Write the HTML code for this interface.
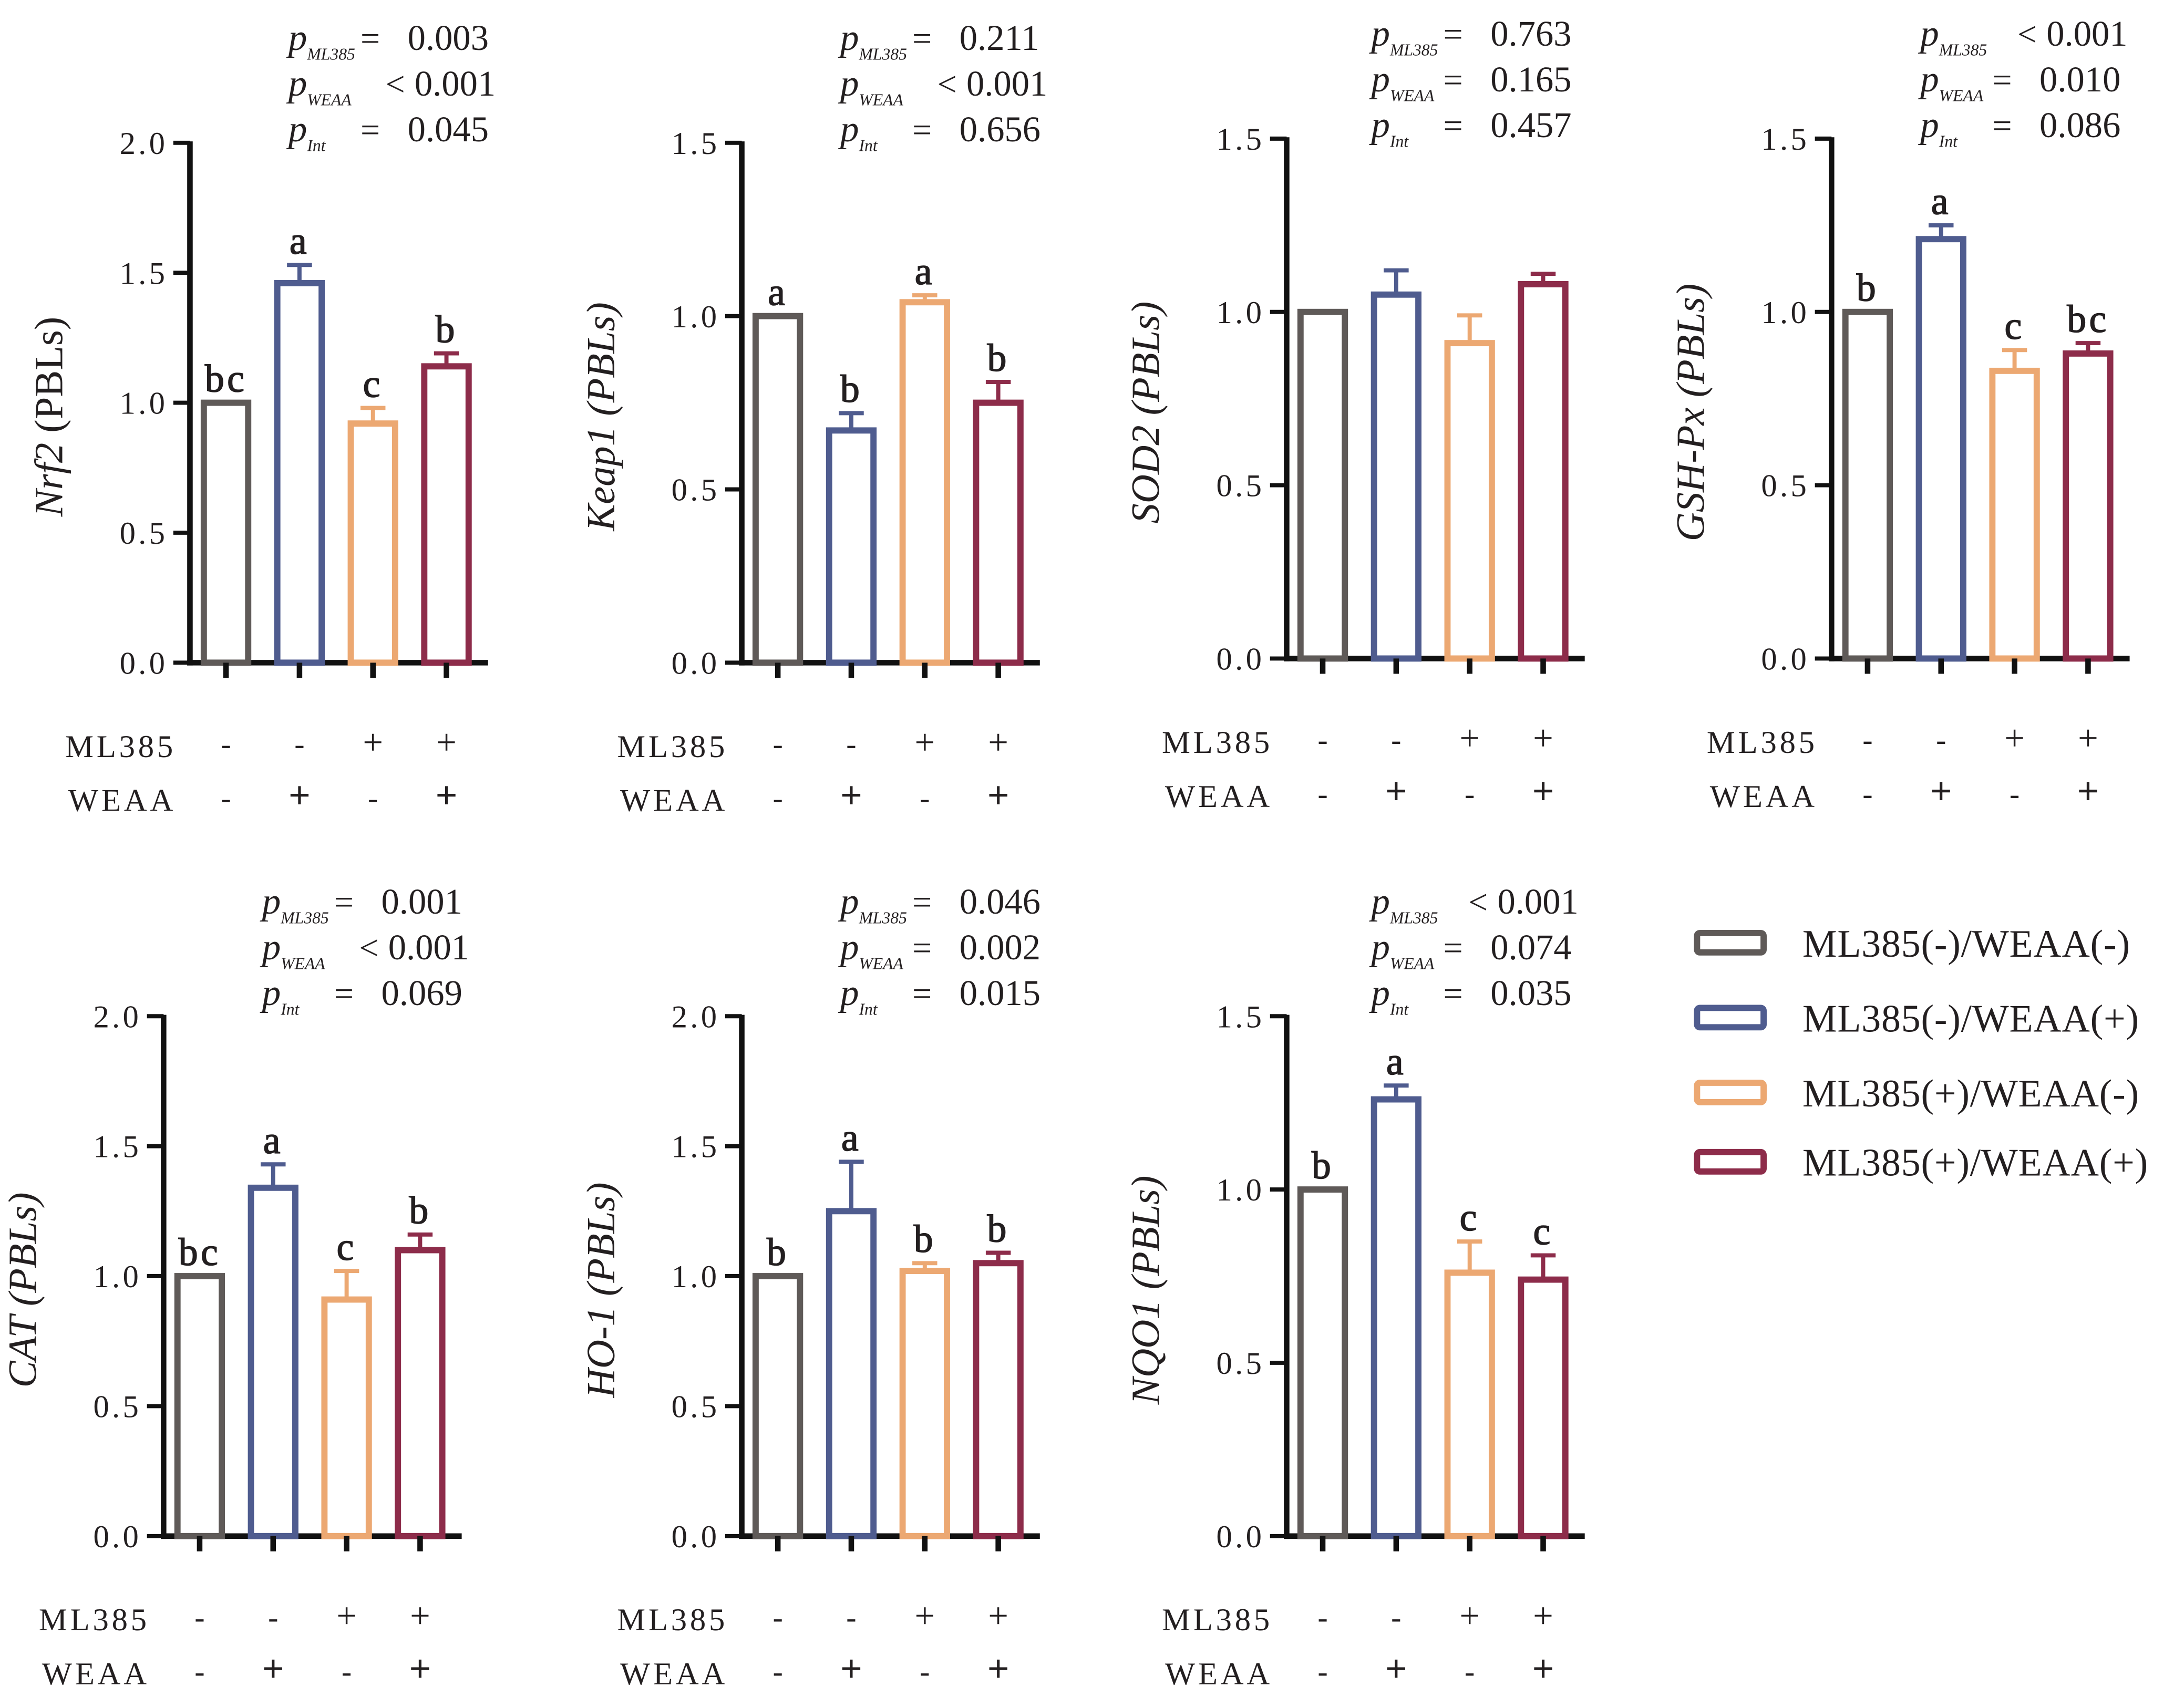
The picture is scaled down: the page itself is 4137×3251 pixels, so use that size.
<!DOCTYPE html>
<html><head><meta charset="utf-8">
<style>
html,body{margin:0;padding:0;background:#fff;}
svg{display:block;}
text{font-family:"Liberation Serif","DejaVu Serif",serif;fill:#231f20;}
</style></head>
<body>
<svg id="fig" width="4137" height="3251" viewBox="0 0 1568 1232" preserveAspectRatio="none" xmlns="http://www.w3.org/2000/svg">
<rect width="1568" height="1232" fill="#fff"/>
<g id="legend"></g>
</svg>
<script>
// ---- data ----
const groups = ["ML385(-)/WEAA(-)","ML385(-)/WEAA(+)","ML385(+)/WEAA(-)","ML385(+)/WEAA(+)"];
const colors = ["#5f5a58","#4f5c8f","#eca872","#8d2c4a"];
const genes = ["Nrf2","Keap1","SOD2","GSH-Px","CAT","HO-1","NQO1"];
const yMaxes = [2.0,1.5,1.5,1.5,2.0,2.0,1.5];
const ticks2 = ["0.0","0.5","1.0","1.5","2.0"];
const ticks15 = ["0.0","0.5","1.0","1.5"];
const meansNrf2 = [1.0,1.46,0.92,1.14];
const errNrf2 = [0,0.07,0.06,0.05];
const meansKeap1 = [1.0,0.67,1.04,0.75];
const errKeap1 = [0,0.05,0.02,0.06];
const meansSOD2 = [1.0,1.05,0.91,1.08];
const errSOD2 = [0,0.07,0.08,0.03];
const meansGSH = [1.0,1.21,0.83,0.88];
const errGSH = [0,0.04,0.06,0.03];
const meansCAT = [1.0,1.34,0.91,1.10];
const errCAT = [0,0.09,0.11,0.06];
const meansHO1 = [1.0,1.25,1.02,1.05];
const errHO1 = [0,0.19,0.03,0.04];
const meansNQO1 = [1.0,1.26,0.76,0.74];
const errNQO1 = [0,0.04,0.09,0.07];
const lettersAll = [["bc","a","c","b"],["a","b","a","b"],["","","",""],["b","a","c","bc"],["bc","a","c","b"],["b","a","b","b"],["b","a","c","c"]];
const pML = [["=","0.003"],["=","0.211"],["=","0.763"],["<","0.001"],["=","0.001"],["=","0.046"],["<","0.001"]];
const pWE = [["<","0.001"],["<","0.001"],["=","0.165"],["=","0.010"],["<","0.001"],["=","0.002"],["=","0.074"]];
const pIn = [["=","0.045"],["=","0.656"],["=","0.457"],["=","0.086"],["=","0.069"],["=","0.015"],["=","0.035"]];
const mlSigns = ["-","-","+","+"];
const weSigns = ["-","+","-","+"];

// ---- layout ----
const meansAll=[meansNrf2,meansKeap1,meansSOD2,meansGSH,meansCAT,meansHO1,meansNQO1];
const errAll=[errNrf2,errKeap1,errSOD2,errGSH,errCAT,errHO1,errNQO1];
const panels=[
 {ax:137,y0:478,y1:103,px:208,py:28},
 {ax:535,y0:478,y1:103,px:606,py:28},
 {ax:928,y0:475,y1:100,px:989,py:25},
 {ax:1321,y0:475,y1:100,px:1385,py:25},
 {ax:118,y0:1108,y1:733,px:189,py:651},
 {ax:535,y0:1108,y1:733,px:606,py:651},
 {ax:928,y0:1108,y1:733,px:989,py:651}
];
const NS="http://www.w3.org/2000/svg";
const svg=document.getElementById('fig');
function el(tag,attrs,parent,txt){const e=document.createElementNS(NS,tag);for(const k in attrs)e.setAttribute(k,attrs[k]);if(txt!==undefined)e.textContent=txt;(parent||svg).appendChild(e);return e;}

panels.forEach((P,pi)=>{
  const g=el('g',{});
  
  
  const ymax=yMaxes[pi];
  const ticks=ymax===2?ticks2:ticks15;
  const yS=v=>P.y0-(v/ymax)*(P.y0-P.y1);
  const xS=i=>P.ax+26+i*53;
  const ya=el('line',{x1:P.ax,y1:P.y1-1,x2:P.ax,y2:P.y0+2,stroke:'#111',"stroke-width":4},g);
  
  
  ticks.forEach(t=>{
    const v=parseFloat(t);
    el('line',{x1:P.ax-12,y1:yS(v),x2:P.ax,y2:yS(v),stroke:'#111',"stroke-width":3},g);
    const tl=el('text',{x:P.ax-16,y:yS(v)+8,"text-anchor":"end","font-size":23,"letter-spacing":"2"},g,t);
    
    
  });
  const xa=el('line',{x1:P.ax-2,y1:P.y0,x2:P.ax+215,y2:P.y0,stroke:'#111',"stroke-width":4},g);
  
  
  const yt=el('text',{transform:`translate(${P.ax-92},${(P.y0+P.y1)/2+10}) rotate(-90)`,"text-anchor":"middle","font-size":29},g);
  
  
  if(pi===0){el('tspan',{"font-style":"italic"},yt,"Nrf2");el('tspan',{},yt," (PBLs)");}
  else{el('tspan',{"font-style":"italic"},yt,genes[pi]+" (PBLs)");}
  meansAll[pi].forEach((m,i)=>{
    const cx=xS(i), top=yS(m);
    const e=errAll[pi][i];
    if(e>0){
      const et=yS(m+e);
      el('line',{x1:cx,y1:et,x2:cx,y2:top,stroke:colors[i],"stroke-width":3},g);
      el('line',{x1:cx-9,y1:et,x2:cx+9,y2:et,stroke:colors[i],"stroke-width":3},g);
    }
    const r=el('rect',{x:cx-16,y:top,width:32,height:P.y0-top,fill:'none',stroke:colors[i],"stroke-width":4.5},g);
    
    
    el('line',{x1:cx,y1:P.y0,x2:cx,y2:P.y0+11,stroke:'#111',"stroke-width":4},g);
    const lt=lettersAll[pi][i];
    if(lt){
      const ly=yS(m+e)-8;
      const t=el('text',{x:cx,y:ly,"text-anchor":"middle","font-size":28,"letter-spacing":"2",stroke:'#231f20',"stroke-width":0.6},g,lt);
      
      
    }
    const s1=el('text',{x:cx,y:P.y0+66,"text-anchor":"middle","font-size":mlSigns[i]==='+'?26:22},g,mlSigns[i]);
    
    
    const s2=el('text',{x:cx,y:P.y0+105,"text-anchor":"middle","font-size":weSigns[i]==='+'?28:22,"font-weight":weSigns[i]==='+'?'bold':'normal'},g,weSigns[i]);
    
    
  });
  const r1=el('text',{x:P.ax-10,y:P.y0+68,"text-anchor":"end","font-size":23,"letter-spacing":"2.2"},g,"ML385");
  
  
  const r2=el('text',{x:P.ax-10,y:P.y0+107,"text-anchor":"end","font-size":23,"letter-spacing":"2.2"},g,"WEAA");
  
  
  [[pML[pi],"ML385"],[pWE[pi],"WEAA"],[pIn[pi],"Int"]].forEach(([pv,sub],k)=>{
    const y=P.py+k*33+8;
    const t=el('text',{x:P.px,y:y,"font-size":27},g);
    
    
    el('tspan',{"font-style":"italic"},t,"p");
    el('tspan',{"font-style":"italic","font-size":12,dy:7},t,sub);
    const lt=pv[0]==='<';
    el('text',{x:lt?P.px+70:P.px+52,y:y,"font-size":25},g,pv[0]);
    el('text',{x:lt?P.px+91:P.px+86,y:y,"font-size":26},g,pv[1]);
  });
});
const lg=document.getElementById('legend');
const legY=[680,734,788,838];
groups.forEach((nm,i)=>{
  const r=el('rect',{x:1224,y:legY[i]-7,width:48,height:14,rx:2,fill:'none',stroke:colors[i],"stroke-width":4.5},lg);
  
  
  const t=el('text',{x:1300,y:legY[i]+10,"font-size":28,"letter-spacing":"0.3"},lg,nm);
  
  
});
</script>
</body></html>
